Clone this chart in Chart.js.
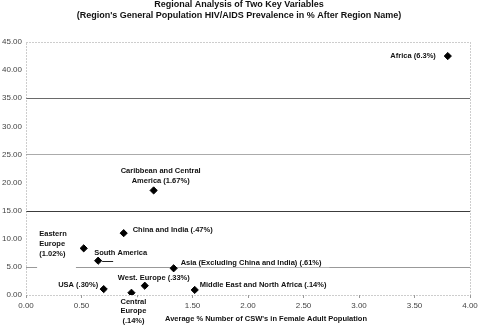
<!DOCTYPE html>
<html>
<head>
<meta charset="utf-8">
<script src="https://cdn.jsdelivr.net/npm/chart.js@4/dist/chart.umd.min.js"></script>
<style>
html,body{margin:0;padding:0;background:#fff;}
#wrap{width:478px;height:326px;position:relative;}
</style>
</head>
<body>
<div id="wrap"><canvas id="c" width="478" height="326"></canvas></div>
<script>
// ---- Data ----
const regions = ["Africa (6.3%)", "Caribbean and Central America (1.67%)", "China and India (.47%)",
  "Eastern Europe (1.02%)", "South America", "Asia (Excluding China and India) (.61%)",
  "West. Europe (.33%)", "USA (.30%)", "Central Europe (.14%)", "Middle East and North Africa (.14%)"];
const cswPercent = [3.80, 1.15, 0.88, 0.52, 0.65, 1.33, 1.07, 0.70, 0.95, 1.52];
const yValues = [42.5, 18.6, 11.0, 8.3, 6.1, 4.75, 1.65, 1.05, 0.4, 0.9];
const xTicks = [0, 0.5, 1, 1.5, 2, 2.5, 3, 3.5, 4];
const yTicks = [0, 5, 10, 15, 20, 25, 30, 35, 40, 45];
const titleLines = ["Regional Analysis of Two Key Variables",
  "(Region's General Population HIV/AIDS Prevalence in % After Region Name)"];
const xTitle = "Average % Number of CSW's in Female Adult Population";

// label presentation (lines, offset from marker, alignment)
const labelLayout = [
  {lines:["Africa (6.3%)"], dx:-12, dy:0, align:"right", box:[-2,2]},
  {lines:["Caribbean and Central","America (1.67%)"], dx:7, dy:-19.5, align:"center", box:[-2,2]},
  {lines:["China and India (.47%)"], dx:9, dy:-3, align:"left", box:[-2,2]},
  {lines:["Eastern","Europe","(1.02%)"], dx:-44.5, dy:-14, align:"left", box:[-2,2]},
  {lines:["South America"], dx:-4, dy:-7.5, align:"left", box:[-2,2], leader:true},
  {lines:["Asia (Excluding China and India) (.61%)"], dx:7, dy:-5.5, align:"left", box:[-3,8]},
  {lines:["West. Europe (.33%)"], dx:-27, dy:-7.5, align:"left", box:[-2,2]},
  {lines:["USA (.30%)"], dx:-5.5, dy:-4, align:"right", box:[-2,2]},
  {lines:["Central","Europe","(.14%)"], dx:2, dy:9, align:"center", box:[-2,2]},
  {lines:["Middle East and North Africa (.14%)"], dx:5, dy:-5, align:"left", box:[-2,2]}
];
const FONT = "'Liberation Sans', Arial, sans-serif";

const frameAndLabels = {
  id: 'frameAndLabels',
  beforeDatasetsDraw(chart) {
    const {ctx, chartArea: a, scales: {x, y}} = chart;
    ctx.save();
    // horizontal reference lines
    const refs = [
      {v:35, c:'#6a6a6a', segs:[[0,4]]},
      {v:25, c:'#ababab', segs:[[0,4]]},
      {v:15, c:'#3c3c3c', segs:[[0,4]]},
      {v:5,  c:'#999999', segs:[[0,0.1],[0.45,4]]}
    ];
    ctx.lineWidth = 1;
    refs.forEach(r => {
      const py = Math.round(y.getPixelForValue(r.v)) + 0.5;
      ctx.strokeStyle = r.c;
      r.segs.forEach(s => {
        ctx.beginPath();
        ctx.moveTo(x.getPixelForValue(s[0]), py);
        ctx.lineTo(x.getPixelForValue(s[1]), py);
        ctx.stroke();
      });
    });
    // dotted frame
    ctx.strokeStyle = '#9a9a9a';
    ctx.setLineDash([1, 2]);
    const l = Math.round(a.left) + 0.5, r = Math.round(a.right) + 0.5;
    const t = Math.round(a.top) + 0.5, b = Math.round(a.bottom) + 0.5;
    ctx.strokeRect(l, t, r - l, b - t);
    ctx.setLineDash([]);
    // labels
    ctx.font = "bold 7.5px " + FONT;
    ctx.textBaseline = 'middle';
    const lh = 9.6;
    const meta = chart.getDatasetMeta(0);
    labelLayout.forEach((lab, i) => {
      const pt = meta.data[i];
      const mx = pt.x, my = pt.y;
      const ax = mx + lab.dx;
      const widths = lab.lines.map(s => ctx.measureText(s).width);
      const w = Math.max(...widths);
      let left;
      if (lab.align === 'left') left = ax;
      else if (lab.align === 'right') left = ax - w;
      else left = ax - w / 2;
      const top = my + lab.dy - 4.5;
      const h = (lab.lines.length - 1) * lh + 9;
      ctx.fillStyle = '#fff';
      ctx.fillRect(left + lab.box[0], top, w - lab.box[0] + lab.box[1], h);
      ctx.fillStyle = '#111';
      ctx.textAlign = lab.align;
      lab.lines.forEach((s, k) => ctx.fillText(s, ax, my + lab.dy + k * lh));
      if (lab.leader) {
        ctx.strokeStyle = '#222';
        ctx.beginPath();
        ctx.moveTo(mx + 4, Math.round(my) + 0.5);
        ctx.lineTo(mx + 15, Math.round(my) + 0.5);
        ctx.stroke();
      }
    });
    ctx.restore();
  },
  afterDraw(chart) {
    const {ctx, chartArea: a} = chart;
    ctx.save();
    ctx.fillStyle = '#111';
    ctx.textAlign = 'center';
    ctx.textBaseline = 'middle';
    ctx.font = "bold 9px " + FONT;
    ctx.fillText(titleLines[0], 239, 5);
    ctx.fillText(titleLines[1], 239, 16);
    ctx.font = "bold 7.5px " + FONT;
    ctx.fillText(xTitle, (a.left + a.right) / 2 + 18, 319);
    ctx.restore();
  }
};

new Chart(document.getElementById('c'), {
  type: 'scatter',
  data: {
    datasets: [{
      data: cswPercent.map((v, i) => ({x: v, y: yValues[i]})),
      pointStyle: 'rectRot',
      pointRadius: 3.6,
      pointHoverRadius: 3.6,
      backgroundColor: '#000',
      borderColor: '#000',
      borderWidth: 1
    }]
  },
  options: {
    responsive: false,
    animation: false,
    devicePixelRatio: 1,
    layout: {padding: {top: 42, right: 8, left: 0, bottom: 0}},
    plugins: {legend: {display: false}, tooltip: {enabled: false}, title: {display: false}},
    scales: {
      x: {
        type: 'linear', min: 0, max: 4,
        afterBuildTicks: s => { s.ticks = xTicks.map(v => ({value: v})); },
        afterFit: s => { s.height = 31; s.paddingRight = 0; s.paddingLeft = 0; },
        border: {display: false},
        grid: {drawOnChartArea: false, drawTicks: true, tickLength: 3, tickColor: '#999', color: '#999'},
        ticks: {autoSkip: false, maxRotation: 0, padding: 3, color: '#444',
          font: {family: FONT, size: 8}, callback: v => Number(v).toFixed(2)}
      },
      y: {
        type: 'linear', min: 0, max: 45,
        afterBuildTicks: s => { s.ticks = yTicks.map(v => ({value: v})); },
        afterFit: s => { s.width = 26; s.paddingTop = 0; s.paddingBottom = 0; },
        border: {display: false},
        grid: {display: false, drawTicks: false},
        ticks: {autoSkip: false, padding: 4, color: '#444',
          font: {family: FONT, size: 8}, callback: v => Number(v).toFixed(2)}
      }
    }
  },
  plugins: [frameAndLabels]
});
</script>
</body>
</html>
